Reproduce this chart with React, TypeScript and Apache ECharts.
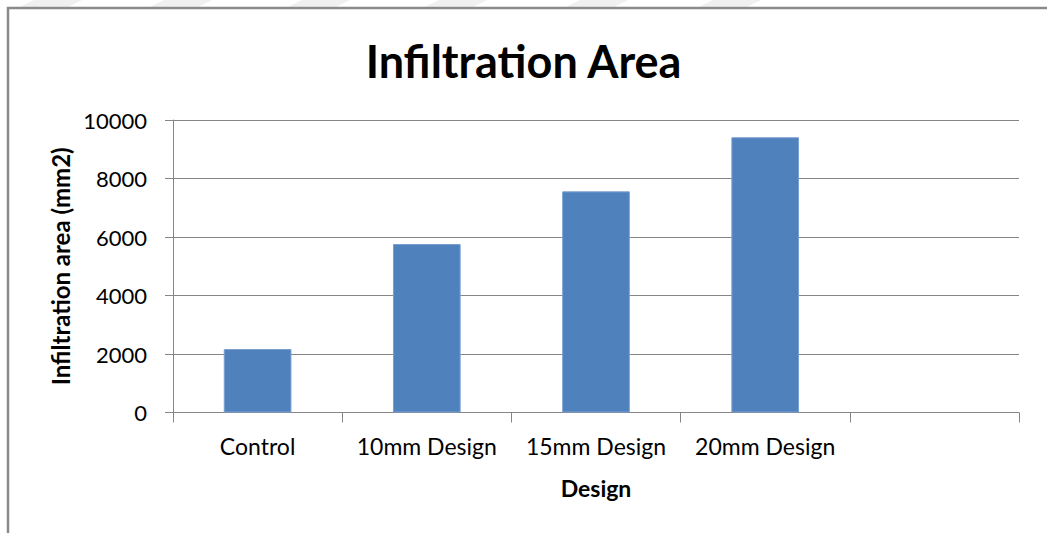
import React, { useEffect, useRef } from "react";
import * as echarts from "echarts";

// Infiltration area per design (mm2)
const categories: string[] = ["Control", "10mm Design", "15mm Design", "20mm Design", ""];
const areaValues: (number | null)[] = [2170, 5760, 7560, 9410, null];
const yTicks = { min: 0, max: 10000, interval: 2000 };

// Faint diagonal stripes running along the very top edge
const stripeStarts: number[] = [20, 150, 288, 425, 566, 699];

const FONT = "Lato, 'Noto Sans', sans-serif";
const AXIS_GRAY = "#868686";

export default function App() {
  const ref = useRef<HTMLDivElement>(null);

  useEffect(() => {
    if (!ref.current) return;
    const chart = echarts.init(ref.current, undefined, { renderer: "svg" });

    const stripes = stripeStarts.map((x) => ({
      type: "polygon",
      silent: true,
      z: 0,
      shape: {
        points: [
          [x, 7],
          [x + 14, 0],
          [x + 62, 0],
          [x + 48, 7],
        ],
      },
      style: { fill: "#f0f0f0" },
    }));

    chart.setOption({
      animation: false,
      backgroundColor: "#ffffff",
      title: {
        text: "Infiltration Area",
        left: "center",
        top: 33,
        textStyle: {
          fontFamily: FONT,
          fontWeight: "bold",
          fontSize: 45,
          color: "#000000",
        },
      },
      graphic: [
        ...stripes,
        {
          type: "rect",
          silent: true,
          z: 1,
          shape: { x: 8, y: 8, width: 1200, height: 800 },
          style: { fill: "none", stroke: "#8a8a8a", lineWidth: 2.5 },
        },
      ],
      grid: {
        left: 173,
        right: 28,
        top: 120,
        bottom: 120.5,
        containLabel: false,
      },
      xAxis: {
        type: "category",
        data: categories,
        boundaryGap: true,
        name: "Design",
        nameLocation: "middle",
        nameGap: 64,
        nameTextStyle: {
          fontFamily: FONT,
          fontWeight: "bold",
          fontSize: 23,
          color: "#000000",
        },
        axisLine: { show: true, lineStyle: { color: AXIS_GRAY, width: 1 } },
        axisTick: { show: true, length: 10, alignWithLabel: false, lineStyle: { color: AXIS_GRAY } },
        axisLabel: {
          fontFamily: FONT,
          fontSize: 23,
          color: "#000000",
          margin: 22,
          interval: 0,
        },
        splitLine: { show: false },
      },
      yAxis: {
        type: "value",
        min: yTicks.min,
        max: yTicks.max,
        interval: yTicks.interval,
        name: "Infiltration area (mm2)",
        nameLocation: "middle",
        nameRotate: 90,
        nameGap: 100,
        nameTextStyle: {
          fontFamily: FONT,
          fontWeight: "bold",
          fontSize: 24,
          color: "#000000",
        },
        axisLine: { show: true, lineStyle: { color: AXIS_GRAY, width: 1 } },
        axisTick: { show: true, length: 8, inside: false, lineStyle: { color: AXIS_GRAY } },
        axisLabel: {
          fontFamily: FONT,
          fontSize: 22,
          color: "#000000",
          margin: 26,
          formatter: (v: number) => String(v),
        },
        splitLine: { show: true, lineStyle: { color: AXIS_GRAY, width: 1 } },
      },
      series: [
        {
          type: "bar",
          data: areaValues,
          barWidth: "40%",
          itemStyle: {
            color: "#4f81bd",
            borderColor: "#7aa0d0",
            borderWidth: 1,
          },
        },
      ],
    });

    return () => chart.dispose();
  }, []);

  return (
    <div
      ref={ref}
      style={{ position: "absolute", left: 0, top: 0, width: 1047, height: 533 }}
    />
  );
}
